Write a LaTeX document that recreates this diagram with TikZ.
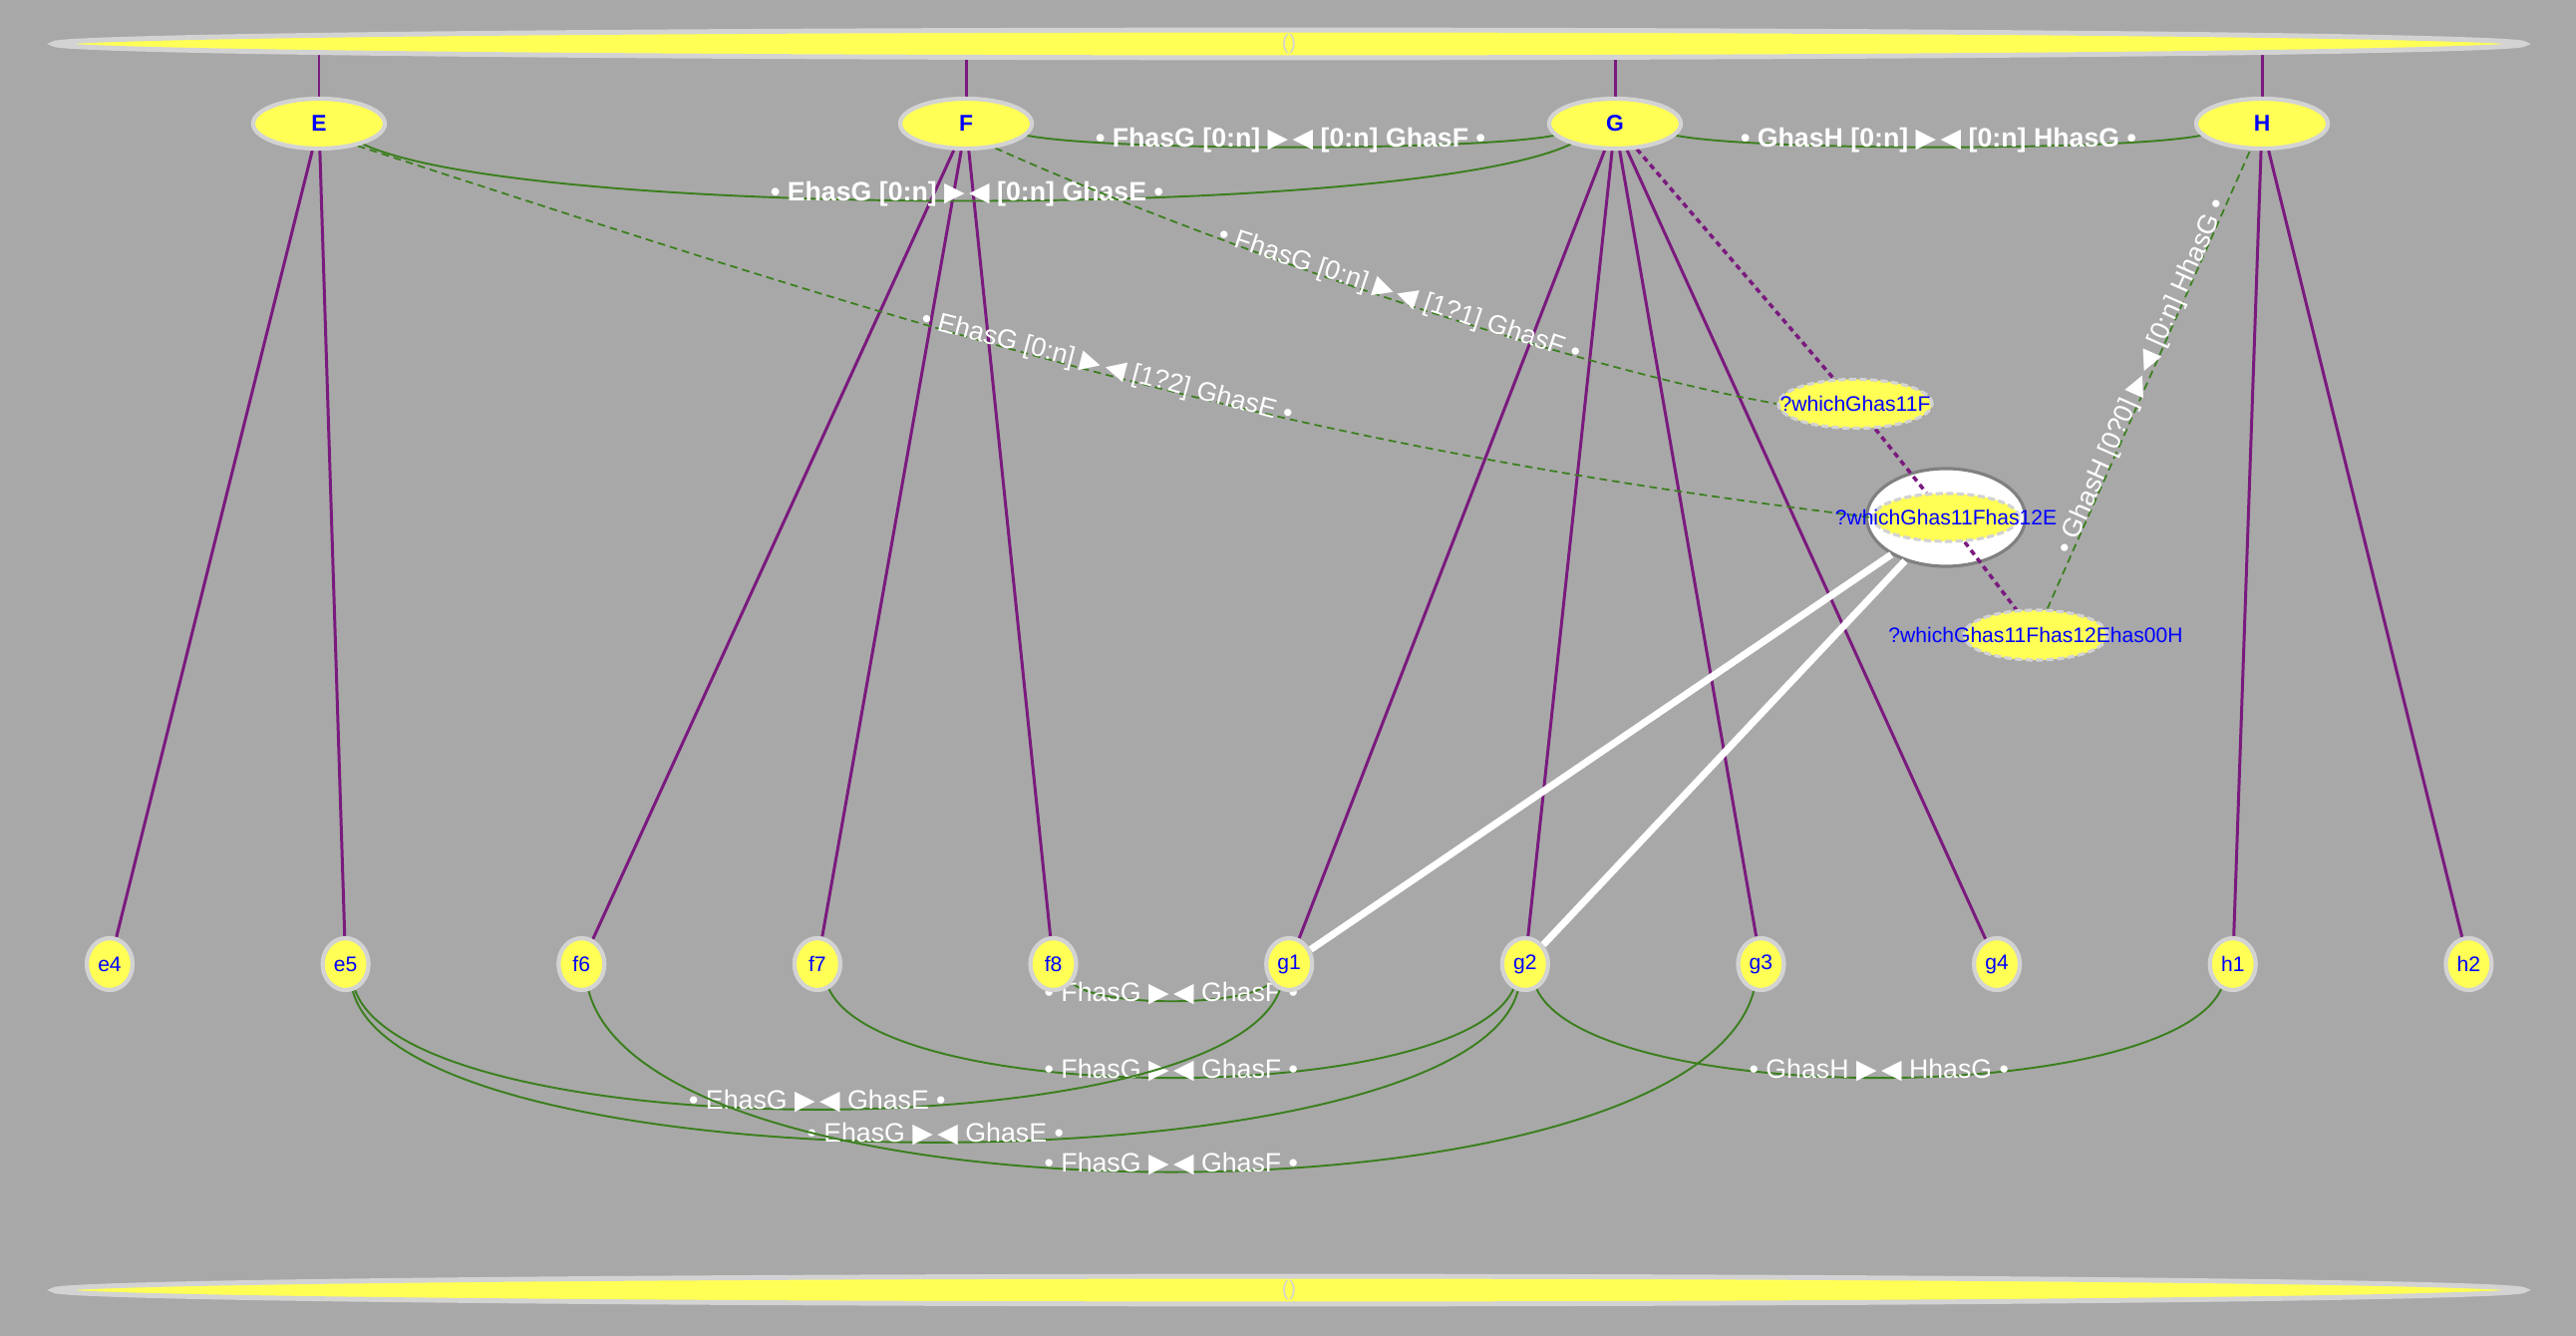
\documentclass[tikz,border=0pt]{standalone}
\usepackage{fontspec}
\setmainfont{Liberation Sans}
\newfontfamily\symfont{DejaVu Sans}
\usepackage{tikz}
\usetikzlibrary{shapes.geometric,positioning,backgrounds}

\definecolor{bggray}{HTML}{A8A8A8}
\definecolor{nodeyellow}{HTML}{FFFF55}
\definecolor{rimgray}{HTML}{D3D3D3}
\definecolor{linkpurple}{HTML}{7A1A7E}
\definecolor{relgreen}{HTML}{3B7F1E}
\newcommand{\meet}{{\symfont ▶\,◀}}

\pgfdeclarelayer{bg}
\pgfdeclarelayer{edges}
\pgfsetlayers{bg,edges,main}

\begin{document}
\begin{tikzpicture}[x=0.01cm,y=-0.01cm,node distance=2.365cm]
    \tikzstyle{bar}=[ellipse, draw=rimgray, fill=nodeyellow, line width=1.4pt, minimum width=24.78cm, minimum height=0.24cm, inner sep=0pt, text=rimgray, font=\fontsize{6}{6}\selectfont]
    \tikzstyle{class}=[ellipse, draw=rimgray, fill=nodeyellow, line width=1.2pt, minimum width=1.32cm, minimum height=0.5cm, inner sep=0pt, text=blue, font=\fontsize{6.5}{7}\selectfont\bfseries]
    \tikzstyle{inst}=[ellipse, draw=rimgray, fill=nodeyellow, line width=1.2pt, minimum width=0.46cm, minimum height=0.52cm, inner sep=0pt, text=blue, font=\fontsize{6}{7}\selectfont]
    \tikzstyle{query}=[ellipse, draw=rimgray, fill=nodeyellow, line width=0.9pt, dash pattern=on 2pt off 1pt, inner sep=0pt, text=blue, font=\fontsize{6}{7}\selectfont]
    \tikzstyle{holder}=[ellipse, draw=gray, fill=white, line width=0.9pt, minimum width=1.59cm, minimum height=0.98cm]
    \tikzstyle{member}=[draw=linkpurple, line width=0.85pt]
    \tikzstyle{chain}=[draw=linkpurple, line width=1pt, dash pattern=on 1.6pt off 1.3pt]
    \tikzstyle{rel}=[draw=relgreen, line width=0.55pt]
    \tikzstyle{opt}=[draw=relgreen, line width=0.5pt, dash pattern=on 2.2pt off 1.4pt]
    \tikzstyle{result}=[draw=white, line width=2pt]
    \tikzstyle{lbl}=[text=white, font=\fontsize{7.6}{8}\selectfont, inner sep=0.5pt, anchor=base]
    \tikzstyle{boldlbl}=[lbl, font=\fontsize{7.6}{8}\selectfont\bfseries]

    \useasboundingbox (0,0) rectangle (2584,1340);
    \begin{pgfonlayer}{bg}
        \fill[bggray] (0,0) rectangle (2584,1340);
        \node[holder] (q2box) at (1952,519) {};
    \end{pgfonlayer}

    \node[bar]   (top)    at (1293,44)   {()};
    \node[bar]   (bottom) at (1293,1294) {()};

    \node[class] (E) at (320,124)  {E};
    \node[class] (F) at (969,124)  {F};
    \node[class] (G) at (1620,124) {G};
    \node[class] (H) at (2269,124) {H};

    \node[inst] (e4) at (110,967) {e4};
    \node[inst] (e5) [right of=e4] {e5};
    \node[inst] (f6) [right of=e5] {f6};
    \node[inst] (f7) [right of=f6] {f7};
    \node[inst] (f8) [right of=f7] {f8};
    \node[inst] (g1) [right of=f8] {g1};
    \node[inst] (g2) [right of=g1] {g2};
    \node[inst] (g3) [right of=g2] {g3};
    \node[inst] (g4) [right of=g3] {g4};
    \node[inst] (h1) [right of=g4] {h1};
    \node[inst] (h2) [right of=h1] {h2};

    \node[query, minimum width=1.54cm, minimum height=0.49cm] (q1) at (1861,405) {\makebox[0pt]{?whichGhas11F}};
    \node[query, minimum width=1.46cm, minimum height=0.48cm] (q2) at (q2box) {\makebox[0pt]{?whichGhas11Fhas12E}};
    \node[query, minimum width=1.44cm, minimum height=0.50cm] (q3) at (2042,637) {\makebox[0pt]{?whichGhas11Fhas12Ehas00H}};

    \begin{pgfonlayer}{edges}
    % membership
    \path[member] (E) -- (E |- top) (F) -- (F |- top) (G) -- (G |- top) (H) -- (H |- top);
    \path[member] (E) -- (e4) (E) -- (e5);
    \path[member] (F) -- (f6) (F) -- (f7) (F) -- (f8);
    \path[member] (G) -- (g1) (G) -- (g2) (G) -- (g3) (G) -- (g4);
    \path[member] (H) -- (h1) (H) -- (h2);
    \path[chain] (G) -- (q1) (q1) -- (q2) (q2) -- (q3);

    % class relations
    \path[rel] (F) to[bend right=11, looseness=0.4] node[boldlbl, midway] {• FhasG [0:n] \meet{} [0:n] GhasF •} (G);
    \path[rel] (G) to[bend right=11, looseness=0.4] node[boldlbl, midway] {• GhasH [0:n] \meet{} [0:n] HhasG •} (H);
    \path[rel] (E) to[bend right=25, looseness=0.38] node[boldlbl, midway] {• EhasG [0:n] \meet{} [0:n] GhasE •} (G);

    % query relations
    \path[opt] (F.-40) to[out=-24, in=170, looseness=0.7] node[lbl, sloped, pos=0.52] {• FhasG [0:n] \meet{} [1?1] GhasF •} (q1.west);
    \path[opt] (E.-30) to[out=-18, in=173] node[lbl, sloped, midway] {• EhasG [0:n] \meet{} [1?2] GhasE •} (q2.west);
    \path[opt] (q3) -- node[lbl, sloped, midway] {• GhasH [0?0] \meet{} [0:n] HhasG •} (H);

    % results
    \path[result] (q2box) -- (g1) (q2box) -- (g2);

    % instance relations
    \path[rel] (f8) to[bend right=45, looseness=0.45] node[lbl, midway] {• FhasG \meet{} GhasF •} (g1);
    \path[rel] (f7) to[bend right=65, looseness=0.49] node[lbl, midway] {• FhasG \meet{} GhasF •} (g2);
    \path[rel] (g2) to[bend right=65, looseness=0.49] node[lbl, midway] {• GhasH \meet{} HhasG •} (h1);
    \path[rel] (e5) to[bend right=70, looseness=0.47] node[lbl, midway] {• EhasG \meet{} GhasE •} (g1);
    \path[rel] (e5) to[bend right=75, looseness=0.46] node[lbl, midway] {• EhasG \meet{} GhasE •} (g2);
    \path[rel] (f6) to[bend right=75, looseness=0.55] node[lbl, midway] {• FhasG \meet{} GhasF •} (g3);
    \end{pgfonlayer}
\end{tikzpicture}
\end{document}
